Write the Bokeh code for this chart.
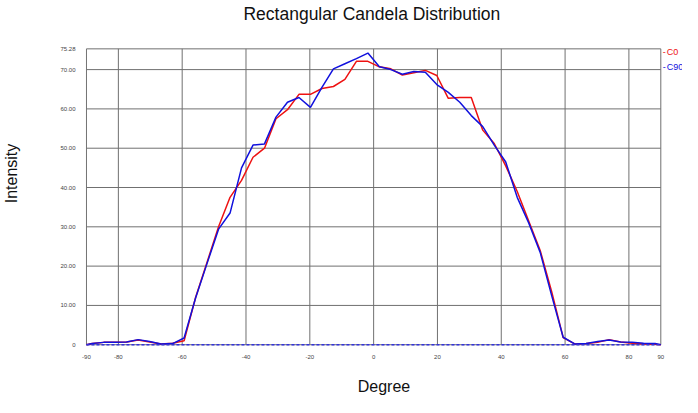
from bokeh.plotting import figure
from bokeh.models import FixedTicker, Label, Range1d
from bokeh.embed import file_html
from bokeh.resources import INLINE

# Data (degrees, intensity)
degrees = [-90, -88.2, -84.6, -81, -77.4, -73.8, -70.2, -66.6, -63, -59.4,
           -55.8, -52.2, -48.6, -45, -41.4, -37.8, -34.2, -30.6, -27, -23.4,
           -19.8, -16.2, -12.6, -9, -5.4, -1.8, 1.8, 5.4, 9, 12.6,
           16.2, 19.8, 23.4, 27, 30.6, 34.2, 37.8, 41.4, 45, 48.6,
           52.2, 55.8, 59.4, 63, 66.6, 70.2, 73.8, 77.4, 81, 84.6, 88.2, 90]
c0 = [0, 0.3, 0.6, 0.6, 0.7, 1.2, 0.7, 0.2, 0.4, 1.0,
      12.0, 21.0, 30.0, 37.5, 41.8, 47.7, 50.0, 57.5, 59.8, 63.7,
      63.7, 65.2, 65.7, 67.5, 72.1, 72.1, 70.7, 70.2, 68.6, 69.2,
      69.8, 68.5, 62.7, 62.9, 62.9, 54.6, 51.2, 45.5, 39.0, 31.5,
      24.0, 13.5, 1.8, 0.2, 0.3, 0.6, 1.3, 0.7, 0.4, 0.2, 0.1, 0]
c90 = [0, 0.3, 0.6, 0.6, 0.7, 1.3, 0.8, 0.2, 0.3, 1.7,
       11.9, 20.7, 29.4, 33.5, 45.0, 50.8, 51.1, 57.9, 61.7, 62.9,
       60.4, 65.5, 70.2, 71.5, 72.8, 74.2, 70.7, 70.0, 68.8, 69.5,
       69.3, 66.2, 64.2, 61.7, 58.3, 55.5, 50.8, 46.5, 37.5, 31.0,
       23.5, 12.5, 1.9, 0.2, 0.3, 0.8, 1.2, 0.7, 0.6, 0.4, 0.3, 0]
baseline_deg = [-90, 90]
baseline_val = [0, 0]

x_ticks = [-90, -80, -60, -40, -20, 0, 20, 40, 60, 80, 90]
y_ticks = [0, 10, 20, 30, 40, 50, 60, 70, 75.28]
y_tick_labels = ["0", "10.00", "20.00", "30.00", "40.00", "50.00", "60.00", "70.00", "75.28"]
series_names = ["C0", "C90"]
series_colors = ["#ee1111", "#1111dd"]
legend_y = [74.6, 70.6]
title_text = "Rectangular Candela Distribution"

FONT = "Liberation Sans"
GRID = "#707070"

# The frame extends past the -90..90 / 0..75.28 box so that the title and the
# series labels (drawn as annotations) are not clipped; grid box drawn as segments.
Y_TOP = 87.58
p = figure(width=682, height=397, output_backend="svg", toolbar_location=None,
           x_range=Range1d(-90.3, 96.8), y_range=Range1d(-0.45, Y_TOP),
           min_border_left=78, min_border_right=0, min_border_top=0, min_border_bottom=45)

p.outline_line_color = None
p.background_fill_color = "white"
p.border_fill_color = "white"

p.xaxis.ticker = FixedTicker(ticks=x_ticks)
p.yaxis.ticker = FixedTicker(ticks=y_ticks)
p.yaxis.major_label_overrides = {t: l for t, l in zip(y_ticks, y_tick_labels)}
p.xaxis.major_label_overrides = {t: str(t) for t in x_ticks}

for ax in (p.xaxis, p.yaxis):
    ax.axis_line_color = None
    ax.major_tick_line_color = None
    ax.minor_tick_line_color = None
    ax.major_label_text_font = FONT
    ax.major_label_text_font_size = "6px"
    ax.major_label_text_color = "#444444"
    ax.axis_label_text_font = FONT
    ax.axis_label_text_font_size = "16px"
    ax.axis_label_text_font_style = "normal"
    ax.axis_label_text_color = "#111111"

p.xaxis.major_label_standoff = 2
p.yaxis.major_label_standoff = 4
p.xaxis.axis_label = "Degree"
p.yaxis.axis_label = "Intensity"
p.xaxis.axis_label_standoff = 16
p.yaxis.axis_label_standoff = 37

p.xgrid.grid_line_color = None
p.ygrid.grid_line_color = None

# grid lines limited to the -90..90 x 0..75.28 box
p.segment(x0=[x_ticks[0]] * len(y_ticks), x1=[x_ticks[-1]] * len(y_ticks),
          y0=y_ticks, y1=y_ticks, line_color=GRID, line_width=1)
p.segment(x0=x_ticks, x1=x_ticks, y0=[y_ticks[0]] * len(x_ticks),
          y1=[y_ticks[-1]] * len(x_ticks), line_color=GRID, line_width=1)

p.line(degrees, c0, line_color=series_colors[0], line_width=1.5)
p.line(degrees, c90, line_color=series_colors[1], line_width=1.5)
p.line(baseline_deg, baseline_val, line_color="#3333dd", line_width=1.5, line_dash="3 2")

for name, col, yy in zip(series_names, series_colors, legend_y):
    p.add_layout(Label(x=90, y=yy, x_offset=2, text="-", text_color=col,
                       text_font=FONT, text_font_size="9px", text_baseline="middle"))
    p.add_layout(Label(x=90, y=yy, x_offset=6, text=name, text_color=col,
                       text_font=FONT, text_font_size="9px", text_baseline="middle"))

p.add_layout(Label(x=-90, y=Y_TOP, x_offset=157, y_offset=-3, text=title_text,
                   text_color="#111111", text_font=FONT, text_font_size="17.5px",
                   text_baseline="top", text_align="left"))

open("out.html", "w").write(file_html(p, INLINE))
